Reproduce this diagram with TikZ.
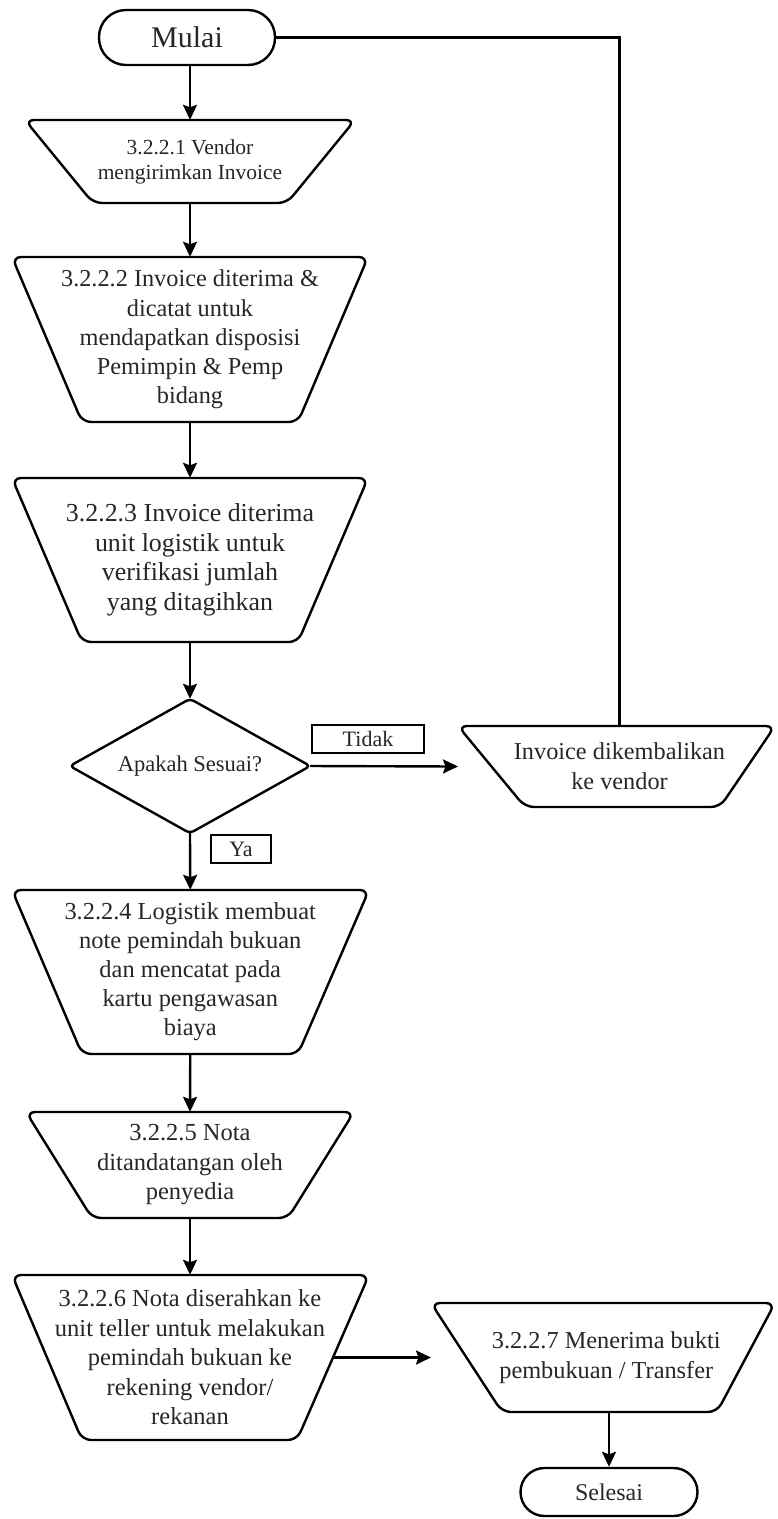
\documentclass[tikz,border=0pt]{standalone}
\usepackage{fontspec}
\setmainfont{Liberation Serif}
\usetikzlibrary{arrows.meta,calc}
\tikzset{
  shp/.style={line width=2.4pt, rounded corners=9pt, line join=round},
  txt/.style={inner sep=0pt, align=center, text=black!85},
  conn/.style={line width=2.4pt, -{Stealth[length=15pt,width=14pt,inset=2.5pt]}},
  plainline/.style={line width=2.4pt},
  term/.style={draw, line width=2.4pt, inner sep=0pt, text=black!85},
  lbl/.style={draw, line width=2pt, inner sep=0pt, minimum height=28pt, text=black!85, font=\fontsize{22}{26}\selectfont},
}
\newcommand\trap[9][]{%
  \pgfmathsetmacro\trX{(#3+#4+#5+#6)/4}%
  \pgfmathsetmacro\trY{(#7+#8)/2}%
  \pgfmathsetmacro\trH{#8-#7}%
  \pgfmathsetmacro\trEx{(#4+#5)/2}%
  \node[txt, minimum height=\trH pt, #1] (#2) at (\trX,\trY) {#9};
  \coordinate (#2-w) at (#3,\trY);
  \coordinate (#2-e) at (\trEx,\trY);
  \draw[shp] (\trX,#7) -- (#4,#7) -- (#5,#8) -- (#6,#8) -- (#3,#7) -- cycle;
}
\begin{document}
\begin{tikzpicture}[x=1pt,y=-1pt]
\useasboundingbox (0,0) rectangle (777,1519);

% start / end
\node[term, minimum width=176pt, minimum height=55pt, rounded corners=27pt, font=\fontsize{30}{34}\selectfont] (mulai) at (187,37.5) {Mulai};
\node[term, minimum width=177pt, minimum height=48pt, rounded corners=24pt, font=\fontsize{24}{28}\selectfont] (selesai) at (609,1492) {Selesai};

% process boxes
\trap[font=\fontsize{21.5}{25}\selectfont]{b1}{25}{355}{287}{93}{120}{203}{3.2.2.1 Vendor\\mengirimkan Invoice}
\trap[font=\fontsize{24.3}{29.3}\selectfont]{b2}{12}{368}{298}{82}{257}{422}{3.2.2.2 Invoice diterima \&\\dicatat untuk\\mendapatkan disposisi\\Pemimpin \& Pemp\\bidang}
\trap[font=\fontsize{25.9}{29.5}\selectfont]{b3}{12}{368}{298}{82}{478}{642}{3.2.2.3 Invoice diterima\\unit logistik untuk\\verifikasi jumlah\\yang ditagihkan}
\trap[font=\fontsize{24.3}{30}\selectfont]{ret}{458}{775}{720}{525}{726}{807}{Invoice dikembalikan\\ke vendor}
\trap[font=\fontsize{24.4}{29}\selectfont]{b4}{12}{369}{298}{82}{890}{1054}{3.2.2.4 Logistik membuat\\note pemindah bukuan\\dan mencatat pada\\kartu pengawasan\\biaya}
\trap[font=\fontsize{24.5}{29.5}\selectfont]{b5}{26}{354}{288}{92}{1112}{1218}{3.2.2.5 Nota\\ditandatangan oleh\\penyedia}
\trap[font=\fontsize{24.5}{29.5}\selectfont]{b6}{12}{369}{297}{82}{1275}{1440}{3.2.2.6 Nota diserahkan ke\\unit teller untuk melakukan\\pemindah bukuan ke\\rekening vendor/\\rekanan}
\trap[font=\fontsize{24.3}{30}\selectfont]{b7}{431}{775}{717}{502}{1303}{1412}{3.2.2.7 Menerima bukti\\pembukuan / Transfer}

% decision
\node[txt, minimum width=240pt, minimum height=134pt, font=\fontsize{22.5}{26}\selectfont] (dia) at (190,766) {Apakah Sesuai?};
\draw[shp, rounded corners=4pt] (dia.north) -- (dia.east) -- (dia.south) -- (dia.west) -- cycle;

% labels
\node[lbl, minimum width=112pt] (tidak) at (368,739) {Tidak};
\node[lbl, minimum width=60pt] (ya) at (241,849) {Ya};

% connectors
\draw[conn] (b1.north |- mulai.south) -- (b1.north);
\draw[conn] (b1.south) -- (b2.north);
\draw[conn] (b2.south) -- (b3.north);
\draw[conn] (b3.south) -- (dia.north);
\draw[conn] (dia.east) -- (ret-w);
\draw[plainline] (mulai.east) -| (ret.north);
\draw[conn] (dia.south) -- (b4.north);
\draw[conn] (b4.south) -- (b5.north);
\draw[conn] (b5.south) -- (b6.north);
\draw[conn] (b6-e) -- (b7-w);
\draw[conn] (selesai.north |- b7.south) -- (selesai.north);
\end{tikzpicture}
\end{document}
